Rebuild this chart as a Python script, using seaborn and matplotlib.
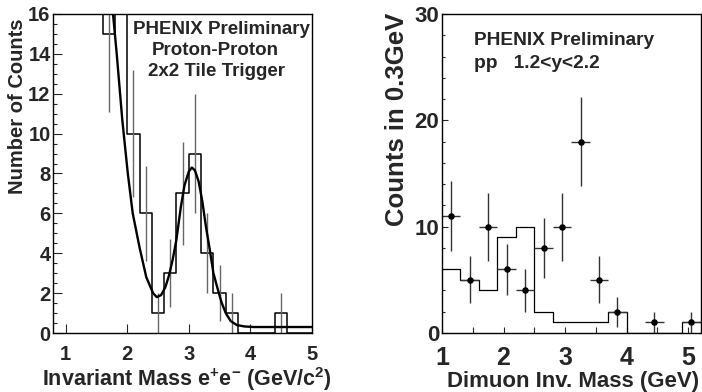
import numpy as np
import pandas as pd
import matplotlib
matplotlib.use("Agg")
import matplotlib.pyplot as plt
from matplotlib.ticker import MultipleLocator, FixedLocator
import seaborn as sns

# ---------------- data: left panel (e+e-) ----------------
ee_edges = [0.8, 1.0, 1.2, 1.4, 1.6, 1.8, 2.0, 2.2, 2.4, 2.6, 2.8, 3.0, 3.2, 3.4, 3.6,
            3.8, 4.0, 4.2, 4.4, 4.6, 4.8, 5.0]
ee_counts = [100, 70, 45, 28, 15, 22, 10, 6, 1, 3, 7, 9, 4, 2, 1, 0, 0, 0, 1, 0, 0]
ee_err_x = [1.7, 2.1, 2.3, 2.5, 2.7, 2.9, 3.1, 3.3, 3.5, 3.7, 4.5]
ee_err_y = [15, 10, 6, 1, 3, 7, 9, 4, 2, 1, 1]
ee_err = [3.9, 3.2, 2.4, 1.0, 1.7, 2.6, 3.0, 2.0, 1.4, 1.0, 1.0]
fit_x = [1.74, 1.83, 1.92, 1.97, 2.01, 2.09, 2.20, 2.31, 2.42, 2.48, 2.55, 2.62, 2.68,
         2.74, 2.80, 2.87, 2.93, 3.00, 3.05, 3.10, 3.16, 3.22, 3.28, 3.34, 3.40, 3.47,
         3.53, 3.60, 3.68, 3.78, 3.90, 4.05, 5.00]
fit_y = [17.0, 14.0, 10.7, 9.2, 8.0, 6.0, 4.3, 2.8, 2.0, 1.8, 1.9, 2.3, 2.9,
         3.7, 4.7, 6.3, 7.4, 8.1, 8.3, 8.15, 7.6, 6.6, 5.3, 4.2, 3.0, 2.2,
         1.55, 1.0, 0.6, 0.40, 0.33, 0.30, 0.30]

# ---------------- data: right panel (dimuon) ----------------
mu_edges = [1.0, 1.3, 1.6, 1.9, 2.2, 2.5, 2.8, 3.1, 3.4, 3.7, 4.0, 4.3, 4.6, 4.9, 5.2]
mu_hist = [6, 5, 4, 9, 10, 2, 1, 1, 1, 2, 0, 0, 0, 1]
mu_x = [1.15, 1.45, 1.75, 2.05, 2.35, 2.65, 2.95, 3.25, 3.55, 3.85, 4.45, 5.05]
mu_y = [11, 5, 10, 6, 4, 8, 10, 18, 5, 2, 1, 1]
mu_yerr = [3.3, 2.2, 3.2, 2.4, 2.0, 2.8, 3.2, 4.2, 2.2, 1.4, 1.0, 1.0]
mu_xerr = 0.15

sns.set_theme(style="ticks")
plt.rcParams["font.family"] = ["Liberation Sans", "DejaVu Sans"]
plt.rcParams["font.weight"] = "bold"
plt.rcParams["mathtext.fontset"] = "custom"
plt.rcParams["mathtext.rm"] = "Liberation Sans:bold"
plt.rcParams["mathtext.bf"] = "Liberation Sans:bold"
plt.rcParams["mathtext.default"] = "rm"
plt.rcParams["axes.linewidth"] = 1.0

fig = plt.figure(figsize=(7.02, 3.92), dpi=100)
ax1 = fig.add_axes([0.0759, 0.1505, 0.3685, 0.8138])
ax2 = fig.add_axes([0.6296, 0.1505, 0.3684, 0.8138])

# ---- left panel ----
ee_centers = [(a + b) / 2 for a, b in zip(ee_edges[:-1], ee_edges[1:])]
sns.histplot(x=ee_centers, weights=ee_counts, bins=ee_edges, element="step",
             fill=False, color="black", linewidth=1.1, ax=ax1)
ax1.errorbar(ee_err_x, ee_err_y, yerr=ee_err, fmt="none", ecolor="#666666",
             elinewidth=1.0, capsize=0)
sns.lineplot(x=fit_x, y=fit_y, sort=False, estimator=None, color="black",
             linewidth=1.7, ax=ax1)
ax1.set_xlim(0.8, 5.0)
ax1.set_ylim(0, 16)
ax1.xaxis.set_major_locator(FixedLocator([1, 2, 3, 4, 5]))
ax1.yaxis.set_major_locator(MultipleLocator(2))
ax1.yaxis.set_minor_locator(MultipleLocator(0.5))
ax1.tick_params(axis="x", which="major", direction="in", length=6.5, width=0.8,
                labelsize=14.5, pad=8.5)
ax1.tick_params(axis="y", which="major", direction="in", length=6.5, width=0.8,
                labelsize=14.5, pad=2)
ax1.tick_params(axis="y", which="minor", direction="in", length=3, width=0.8)
ax1.set_xlabel("")
ax1.set_ylabel("")
for s in ax1.spines.values():
    s.set_visible(True)
    s.set_color("black")
ax1.text(0.650, 0.950, "PHENIX Preliminary", transform=ax1.transAxes, ha="center",
         va="center", fontsize=13.5, fontweight="bold")
ax1.text(0.625, 0.884, "Proton-Proton", transform=ax1.transAxes, ha="center",
         va="center", fontsize=13.5, fontweight="bold")
ax1.text(0.631, 0.821, "2x2 Tile Trigger", transform=ax1.transAxes, ha="center",
         va="center", fontsize=13.5, fontweight="bold")
fig.text(17.7 / 702, 1 - 18 / 392, "Number of Counts", rotation=90, ha="center",
         va="top", fontsize=14.5, fontweight="bold")
fig.text(186.5 / 702, 1 - 386 / 392, r"Invariant Mass e$^{+}$e$^{-}$ (GeV/c$^{2}$)",
         ha="center", va="baseline", fontsize=15.5, fontweight="bold")

# ---- right panel ----
mu_centers = [(a + b) / 2 for a, b in zip(mu_edges[:-1], mu_edges[1:])]
sns.histplot(x=mu_centers, weights=mu_hist, bins=mu_edges, element="step",
             fill=False, color="black", linewidth=0.9, ax=ax2)
ax2.errorbar(mu_x, mu_y, yerr=mu_yerr, xerr=mu_xerr, fmt="none", ecolor="#333333",
             elinewidth=1.0, capsize=0)
sns.scatterplot(x=mu_x, y=mu_y, color="black", s=22, edgecolor="black",
                linewidth=0, ax=ax2, zorder=5)
ax2.set_xlim(1.0, 5.2)
ax2.set_ylim(0, 30)
ax2.xaxis.set_major_locator(MultipleLocator(1))
ax2.xaxis.set_minor_locator(MultipleLocator(0.5))
ax2.yaxis.set_major_locator(MultipleLocator(10))
ax2.yaxis.set_minor_locator(MultipleLocator(2))
ax2.tick_params(axis="x", which="major", direction="in", length=4, width=0.8,
                labelsize=18, pad=9)
ax2.tick_params(axis="x", which="minor", direction="in", length=4, width=0.8)
ax2.tick_params(axis="y", which="major", direction="in", length=4.5, width=0.8,
                labelsize=16, pad=2)
ax2.tick_params(axis="y", which="minor", direction="in", length=2.3, width=0.8)
ax2.set_xlabel("")
ax2.set_ylabel("")
for s in ax2.spines.values():
    s.set_visible(True)
    s.set_color("black")
ax2.text(0.1236, 0.918, "PHENIX Preliminary", transform=ax2.transAxes, ha="left",
         va="center", fontsize=13.8, fontweight="bold")
ax2.text(0.1236, 0.846, "pp   1.2<y<2.2", transform=ax2.transAxes, ha="left",
         va="center", fontsize=13.8, fontweight="bold")
fig.text(397.5 / 702, 1 - 13 / 392, "Counts in 0.3GeV", rotation=90, ha="center",
         va="top", fontsize=18.5, fontweight="bold")
fig.text(699 / 702, 1 - 387 / 392, "Dimuon Inv. Mass (GeV)", ha="right",
         va="baseline", fontsize=16, fontweight="bold")

for ax in (ax1, ax2):
    for lab in ax.get_xticklabels() + ax.get_yticklabels():
        lab.set_fontweight("bold")

fig.savefig("out.png", dpi=100)
